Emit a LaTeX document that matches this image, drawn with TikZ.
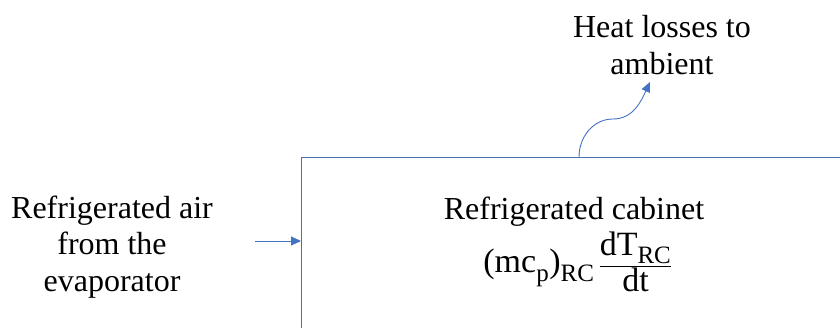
\documentclass[tikz,border=0pt]{standalone}
\usepackage{fontspec}
\setmainfont{Liberation Serif}
\usetikzlibrary{arrows.meta}
\DeclareMathSizes{34}{34}{25}{19}
\definecolor{boxblue}{HTML}{4A6FB0}
\definecolor{arrblue}{HTML}{4472C4}
\tikzset{
  lbl/.style={font=\fontsize{32}{36.5}\selectfont, align=center, inner sep=0pt},
  flow/.style={draw=arrblue, line width=0.9pt, -{Triangle[length=10pt,width=9pt]}},
}
\begin{document}
\begin{tikzpicture}[x=1pt,y=-1pt]
\useasboundingbox (0,0) rectangle (840,327);
\clip (0,0) rectangle (840,327);
\node[draw=boxblue, line width=1.3pt, anchor=north west, minimum width=700pt, minimum height=300pt, inner sep=0pt] (cab) at (301,157) {};
\node[lbl] (cabt) at (574,212) {Refrigerated cabinet};
\node[lbl, font=\fontsize{34}{38}\selectfont] (eq) at (578,262) {$\displaystyle\hbox{(mc}_{\mathrm{p}}\hbox{)}_{\mathrm{RC}}\,\frac{\hbox{dT}_{\mathrm{RC}}}{\hbox{dt}}$};
\node[lbl] (air) at (112,247) {Refrigerated air\\from the\\evaporator};
\node[lbl] (heat) at (662,45) {Heat losses to\\ambient};
\coordinate (ain) at (255,241);
\coordinate (aend) at (cab.west |- ain);
\coordinate (hs) at (579,157);
\coordinate (hm) at (613,119);
\coordinate (he) at (650,82);
\draw[flow] (ain) -- (aend);
\draw[flow] (hs) to[out=90,in=180] (hm) to[out=0,in=-115] (he);
\end{tikzpicture}
\end{document}
